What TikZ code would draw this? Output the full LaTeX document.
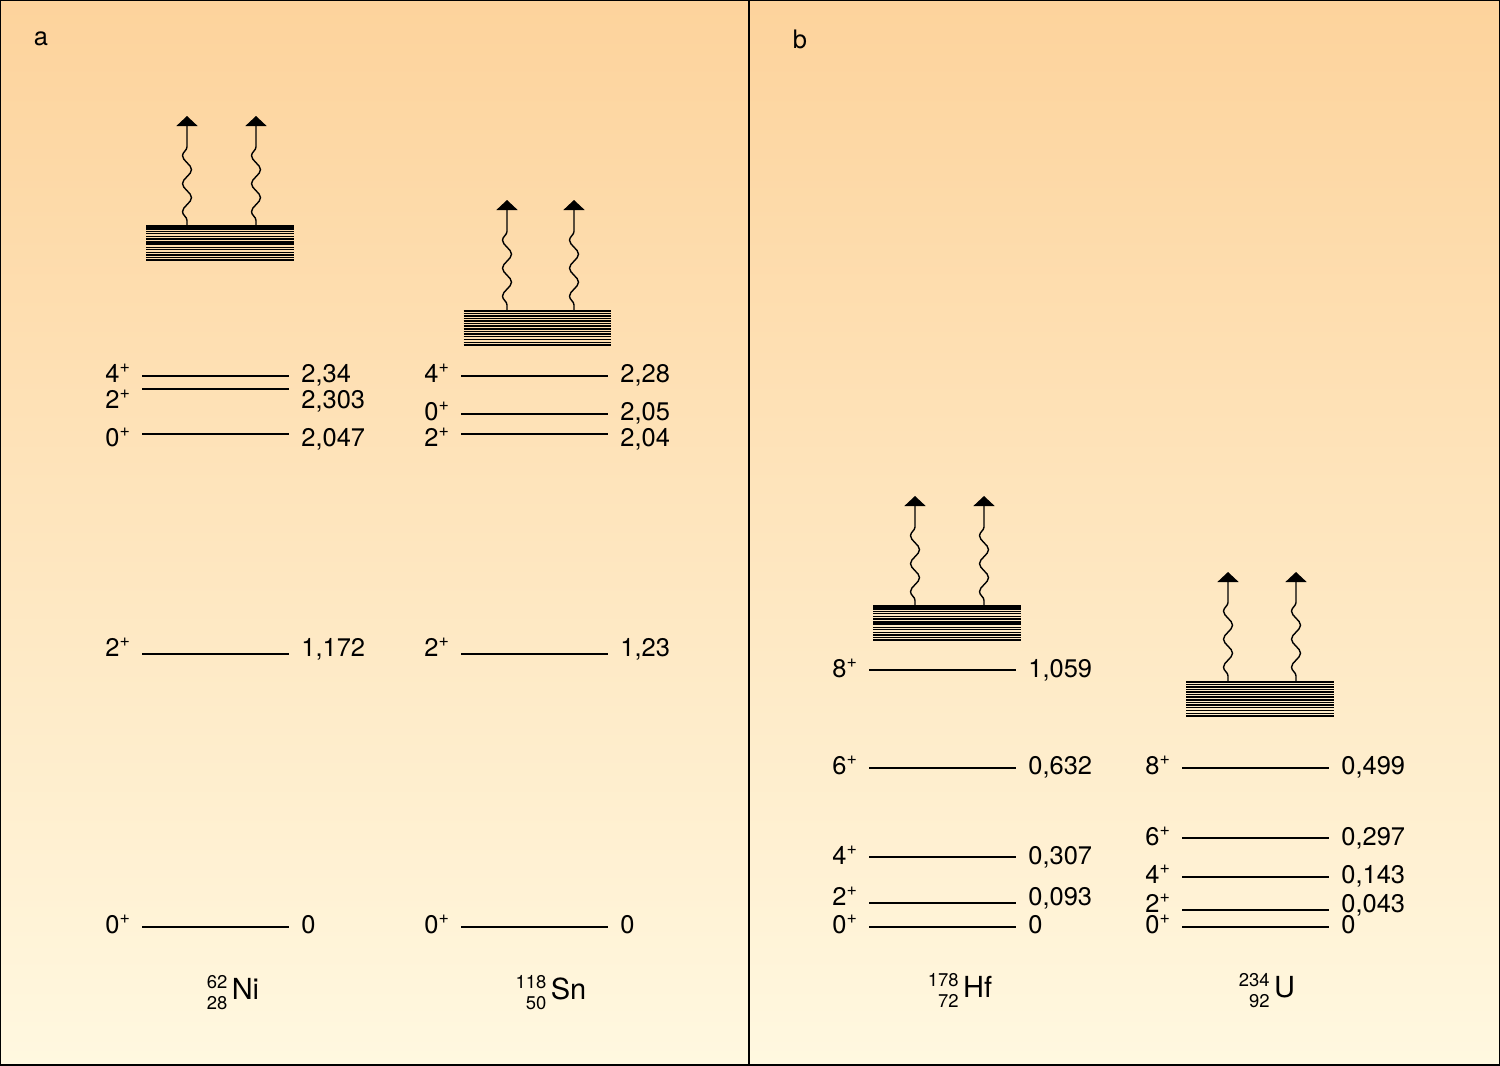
\documentclass[tikz,border=0pt]{standalone}
\usepackage{fontspec}
\setmainfont{TeX Gyre Heros}
\usetikzlibrary{arrows.meta, calc, decorations.pathmorphing}
\definecolor{BgTop}{RGB}{253,211,156}
\definecolor{BgMid}{RGB}{254,230,190}
\definecolor{BgBottom}{RGB}{255,248,224}

% one level: name, left x, line y, text baseline y, spin, energy
\newcommand\level[6]{%
  \coordinate (#1a) at (#2,#3);
  \coordinate (#1b) at (#2+147,#3);
  \draw[levline] (#1a) -- (#1b);
  \node[spin] (#1s) at (#2-37,#4) {#5\textsuperscript{+}};
  \node[energy] (#1e) at (#2+159,#4) {#6};
}
% nuclide symbol with mass and charge numbers
\newcommand\nucl[3]{%
  {\renewcommand\arraystretch{1}\fontsize{10.5}{11.5}\selectfont
   \begin{tabular}[c]{@{}r@{}}#1\\#2\end{tabular}}\kern2.5pt{\fontsize{16.5}{19}\selectfont#3}}

\begin{document}
\begin{tikzpicture}[
    x=0.02cm, y=-0.02cm,
    font=\fontsize{14.5}{17}\selectfont,
    levline/.style={line width=0.8pt},
    spin/.style={anchor=base west, inner sep=0pt},
    energy/.style={anchor=base west, inner sep=0pt},
    nuclide/.style={inner sep=0pt},
    band/.style={minimum width=2.96cm, minimum height=0.71cm, inner sep=0pt,
        path picture={
          \foreach \f/\w in {0.02/1.3, 0.09/0.7, 0.16/1.0, 0.23/0.6, 0.3/1.0, 0.37/0.7,
                             0.45/1.3, 0.52/1.0, 0.6/0.6, 0.67/1.0, 0.75/0.6, 0.82/0.9,
                             0.9/0.7, 0.97/1.1}
            \draw[line width=\w pt]
              ($(path picture bounding box.north west)!\f!(path picture bounding box.south west)$) --
              ($(path picture bounding box.north east)!\f!(path picture bounding box.south east)$);
        }},
    photon/.style={line width=0.8pt, -{Triangle[width=4.2mm, length=2mm]}, decorate,
        decoration={snake, amplitude=0.9mm, segment length=5.6mm, pre length=1mm, post length=3.5mm}},
]

\useasboundingbox (0,0) rectangle (1500,1065);
\shade[top color=BgTop, middle color=BgMid, bottom color=BgBottom] (0,0) rectangle (1500,1065);
\draw[line width=1pt] (0,0) rectangle (1500,1065);
\draw[line width=0.8pt] (749,0) -- (749,1065);

\node (pa) at (41,39) {a};
\node (pb) at (800,39) {b};

% --- 62Ni ---
\node[band] (niband) at (220,243.5) {};
\coordinate (niup1) at (187,116);
\coordinate (niup2) at (256,116);
\draw[photon] (niband.north -| niup1) -- (niup1);
\draw[photon] (niband.north -| niup2) -- (niup2);
\level{ni4}{142}{376}{382}{4}{2,34}
\level{ni2b}{142}{389}{408}{2}{2,303}
\level{ni0b}{142}{434}{446}{0}{2,047}
\level{ni2}{142}{654}{656}{2}{1,172}
\level{ni0}{142}{927}{933}{0}{0}
\node[nuclide] (ni) at (233,995) {\nucl{62}{28}{Ni}};

% --- 118Sn ---
\node[band] (snband) at (537.5,328) {};
\coordinate (snup1) at (507,200);
\coordinate (snup2) at (574,200);
\draw[photon] (snband.north -| snup1) -- (snup1);
\draw[photon] (snband.north -| snup2) -- (snup2);
\level{sn4}{461}{376}{382}{4}{2,28}
\level{sn0b}{461}{414}{420}{0}{2,05}
\level{sn2b}{461}{434}{446}{2}{2,04}
\level{sn2}{461}{654}{656}{2}{1,23}
\level{sn0}{461}{927}{933}{0}{0}
\node[nuclide] (sn) at (551,995) {\nucl{118}{50}{Sn}};

% --- 178Hf ---
\node[band] (hfband) at (947,623.5) {};
\coordinate (hfup1) at (915,496);
\coordinate (hfup2) at (984,496);
\draw[photon] (hfband.north -| hfup1) -- (hfup1);
\draw[photon] (hfband.north -| hfup2) -- (hfup2);
\level{hf8}{869}{670}{677}{8}{1,059}
\level{hf6}{869}{768}{774}{6}{0,632}
\level{hf4}{869}{857}{864}{4}{0,307}
\level{hf2}{869}{903}{905}{2}{0,093}
\level{hf0}{869}{927}{933}{0}{0}
\node[nuclide] (hf) at (960,993) {\nucl{178}{72}{Hf}};

% --- 234U ---
\node[band] (uband) at (1260,699) {};
\coordinate (uup1) at (1228,572);
\coordinate (uup2) at (1296,572);
\draw[photon] (uband.north -| uup1) -- (uup1);
\draw[photon] (uband.north -| uup2) -- (uup2);
\level{u8}{1182}{768}{774}{8}{0,499}
\level{u6}{1182}{838}{845}{6}{0,297}
\level{u4}{1182}{877}{883}{4}{0,143}
\level{u2}{1182}{910}{912}{2}{0,043}
\level{u0}{1182}{927}{933}{0}{0}
\node[nuclide] (u) at (1267,993) {\nucl{234}{92}{U}};

\end{tikzpicture}
\end{document}
